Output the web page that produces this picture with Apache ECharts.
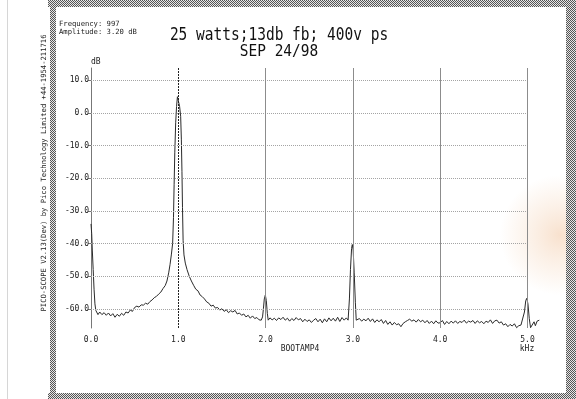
<!DOCTYPE html>
<html>
<head>
<meta charset="utf-8">
<script src="https://cdn.jsdelivr.net/npm/echarts@6/dist/echarts.min.js"></script>
<style>
  html, body { margin: 0; padding: 0; background: #fff; }
  #chart { width: 576px; height: 399px; }
</style>
</head>
<body>
<div id="chart"></div>
<script>
// spectrum trace (kHz / dB)
var freqKHz = [
  0.000, 0.008, 0.015, 0.025, 0.035, 0.045, 0.055, 0.065, 0.080, 0.095,
  0.100, 0.125, 0.150, 0.175, 0.200, 0.225, 0.250, 0.275, 0.300, 0.325,
  0.350, 0.375, 0.400, 0.425, 0.450, 0.475, 0.500, 0.525, 0.550, 0.575,
  0.600, 0.625, 0.650, 0.675, 0.700, 0.725, 0.750, 0.775, 0.800, 0.825,
  0.850, 0.870, 0.890, 0.905, 0.920, 0.935, 0.945, 0.952, 0.960, 0.970,
  0.980, 0.990, 0.997, 1.005, 1.015, 1.027, 1.035, 1.042, 1.048, 1.055,
  1.065, 1.080, 1.100, 1.125, 1.150, 1.175, 1.200, 1.225, 1.250, 1.275,
  1.300, 1.325, 1.350, 1.375, 1.400, 1.425, 1.450, 1.475, 1.500, 1.525,
  1.550, 1.575, 1.600, 1.625, 1.650, 1.675, 1.700, 1.725, 1.750, 1.775,
  1.800, 1.825, 1.850, 1.875, 1.900, 1.925, 1.950, 1.965, 1.975, 1.985,
  1.997, 2.008, 2.020, 2.030, 2.050, 2.075, 2.100, 2.125, 2.150, 2.175,
  2.200, 2.225, 2.250, 2.275, 2.300, 2.325, 2.350, 2.375, 2.400, 2.425,
  2.450, 2.475, 2.500, 2.525, 2.550, 2.575, 2.600, 2.625, 2.650, 2.675,
  2.700, 2.725, 2.750, 2.775, 2.800, 2.825, 2.850, 2.875, 2.900, 2.925,
  2.945, 2.960, 2.972, 2.985, 2.993, 3.003, 3.015, 3.028, 3.038, 3.050,
  3.075, 3.100, 3.125, 3.150, 3.175, 3.200, 3.225, 3.250, 3.275, 3.300,
  3.325, 3.350, 3.375, 3.400, 3.425, 3.450, 3.475, 3.500, 3.525, 3.550,
  3.575, 3.600, 3.625, 3.650, 3.675, 3.700, 3.725, 3.750, 3.775, 3.800,
  3.825, 3.850, 3.875, 3.900, 3.925, 3.950, 3.975, 4.000, 4.025, 4.050,
  4.075, 4.100, 4.125, 4.150, 4.175, 4.200, 4.225, 4.250, 4.275, 4.300,
  4.325, 4.350, 4.375, 4.400, 4.425, 4.450, 4.475, 4.500, 4.525, 4.550,
  4.575, 4.600, 4.625, 4.650, 4.675, 4.700, 4.725, 4.750, 4.775, 4.800,
  4.825, 4.850, 4.875, 4.900, 4.925, 4.945, 4.965, 4.980, 4.992, 5.005,
  5.020, 5.035, 5.055, 5.075, 5.090, 5.110, 5.135
];
var levelDb = [
  -34.0, -37.0, -42.0, -48.0, -54.0, -58.5, -60.5, -61.0, -61.8, -61.2,
  -61.0, -61.8, -61.2, -62.0, -61.3, -62.2, -61.5, -62.6, -61.7, -62.3,
  -61.4, -62.0, -61.0, -61.3, -60.4, -60.8, -59.6, -59.2, -59.5, -58.8,
  -58.9, -58.3, -58.6, -57.8, -57.3, -56.6, -56.2, -55.5, -54.9, -53.8,
  -52.9, -51.5, -49.0, -46.5, -43.5, -40.0, -32.0, -22.0, -12.0, -3.0,
  2.0, 5.0, 5.3, 4.5, 2.0, -1.0, -8.0, -18.0, -29.0, -39.0,
  -43.5, -46.0, -48.0, -50.0, -51.5, -52.8, -54.0, -54.5, -55.8, -56.3,
  -57.0, -57.9, -58.3, -59.2, -58.9, -59.8, -59.6, -60.4, -60.0, -60.8,
  -60.3, -61.2, -60.6, -61.0, -60.5, -61.6, -61.3, -62.0, -61.6, -62.5,
  -62.0, -62.9, -62.2, -63.0, -62.7, -63.4, -63.5, -62.5, -60.0, -57.0,
  -55.8, -57.5, -61.5, -63.5, -62.8, -63.4, -62.9, -63.6, -62.8, -63.3,
  -62.6, -63.5, -62.9, -63.8, -63.0, -63.6, -62.7, -63.4, -63.0, -64.0,
  -63.2, -63.9, -63.4, -64.2, -63.5, -63.0, -64.0, -63.2, -64.3, -63.1,
  -64.0, -62.8, -63.7, -62.9, -63.8, -62.6, -63.9, -62.7, -63.5, -62.8,
  -63.5, -57.0, -48.0, -41.5, -40.3, -42.0, -49.0, -58.0, -63.5, -64.0,
  -63.0, -63.8, -63.2, -63.7, -62.9, -63.9, -63.1, -64.2, -63.4, -64.0,
  -63.3, -64.5, -63.6, -64.8, -64.0, -65.0, -64.2, -64.9, -64.6, -65.5,
  -64.5, -64.0, -63.6, -63.2, -63.8, -63.4, -64.1, -63.3, -64.0, -63.5,
  -64.3, -63.6, -64.5, -63.8, -64.6, -63.7, -64.4, -64.3, -63.6, -64.8,
  -63.9, -64.6, -63.8, -64.4, -63.7, -64.5, -63.9, -64.2, -63.5, -64.4,
  -63.8, -64.1, -63.6, -64.5, -63.7, -64.3, -63.9, -64.6, -63.8, -64.2,
  -63.4, -64.5, -63.7, -63.5, -64.4, -64.0, -65.0, -64.6, -65.5, -64.8,
  -65.3, -64.6, -65.8, -65.2, -65.0, -64.5, -61.0, -57.5, -56.8, -58.5,
  -63.0, -65.8, -65.5, -64.0, -65.2, -63.8, -63.5
];

var yTicks = [10, 0, -10, -20, -30, -40, -50, -60];
var xTicks = [0, 1, 2, 3, 4, 5];
var cursorKHz = 1;

var yMin = -65.9, yMax = 13.8;

var chart = echarts.init(document.getElementById('chart'));

// checker pattern for the scanned border
var pat = document.createElement('canvas');
pat.width = 2; pat.height = 2;
var pc = pat.getContext('2d');
pc.fillStyle = '#e6e6e6'; pc.fillRect(0, 0, 2, 2);
pc.fillStyle = '#555'; pc.fillRect(0, 0, 1, 1); pc.fillRect(1, 1, 1, 1);
var checker = { image: pat, repeat: 'repeat' };

var trace = freqKHz.map(function (f, i) { return [f, levelDb[i]]; });

var gridLines = [];
yTicks.forEach(function (v) {
  gridLines.push([
    { coord: [0, v], lineStyle: { color: '#a4a4a4', width: 1, type: [1, 1] } },
    { coord: [5, v] }
  ]);
});
[2, 3, 4, 5].forEach(function (v) {
  gridLines.push([
    { coord: [v, yMin], lineStyle: { color: '#8c8c8c', width: 1, type: 'solid' } },
    { coord: [v, yMax] }
  ]);
});
gridLines.push([
  { coord: [cursorKHz, yMin], lineStyle: { color: '#222', width: 1, type: [2, 1] } },
  { coord: [cursorKHz, yMax] }
]);

var mono = 'DejaVu Sans Mono';

chart.setOption({
  backgroundColor: '#fff',
  animation: false,
  grid: { left: 91, top: 68, right: 35.4, bottom: 71 },
  xAxis: {
    type: 'value', min: 0, max: 5.15,
    axisLine: { show: false },
    axisTick: { show: false },
    splitLine: { show: false },
    axisLabel: {
      customValues: xTicks, margin: 8,
      fontFamily: mono, fontSize: 8, color: '#222',
      formatter: function (v) { return v.toFixed(1); }
    }
  },
  yAxis: {
    type: 'value', min: yMin, max: yMax,
    axisLine: { show: true, lineStyle: { color: '#777', width: 1 } },
    axisTick: { show: true, customValues: yTicks, length: 3, lineStyle: { color: '#777' } },
    splitLine: { show: false },
    axisLabel: {
      customValues: yTicks, margin: 2,
      fontFamily: mono, fontSize: 8, color: '#222',
      formatter: function (v) { return v.toFixed(1); }
    }
  },
  graphic: [
    { type: 'line', shape: { x1: 7.5, y1: 0, x2: 7.5, y2: 399 }, style: { stroke: '#d6d6d6', lineWidth: 1 } },
    {
      type: 'ellipse', shape: { cx: 560, cy: 235, rx: 60, ry: 120 },
      style: {
        fill: {
          type: 'radial', x: 0.5, y: 0.5, r: 0.5,
          colorStops: [
            { offset: 0, color: 'rgba(242,200,165,0.55)' },
            { offset: 0.5, color: 'rgba(244,210,180,0.3)' },
            { offset: 1, color: 'rgba(244,210,180,0)' }
          ]
        }
      }
    },
    { type: 'rect', shape: { x: 48, y: 0, width: 528, height: 7 }, style: { fill: checker } },
    { type: 'rect', shape: { x: 50, y: 0, width: 6, height: 399 }, style: { fill: checker } },
    { type: 'rect', shape: { x: 48, y: 393, width: 528, height: 6 }, style: { fill: checker } },
    { type: 'rect', shape: { x: 566, y: 0, width: 10, height: 399 }, style: { fill: checker } },
    {
      type: 'text', x: 44, y: 173, rotation: Math.PI / 2,
      style: {
        text: 'PICO-SCOPE V2.13(Dev) by Pico Technology Limited +44-1954-211716',
        font: '7.2px "' + mono + '"', fill: '#222', align: 'center', verticalAlign: 'middle'
      }
    },
    {
      type: 'text', x: 59, y: 20,
      style: { text: 'Frequency: 997\nAmplitude: 3.20 dB', font: '7.2px "' + mono + '"', lineHeight: 8, fill: '#222' }
    },
    {
      type: 'text', x: 279, y: 35, scaleY: 1.25,
      style: { text: '25 watts;13db fb; 400v ps', font: '14.5px "' + mono + '"', fill: '#111', align: 'center', verticalAlign: 'middle' }
    },
    {
      type: 'text', x: 279, y: 52, scaleY: 1.15,
      style: { text: 'SEP 24/98', font: '14.5px "' + mono + '"', fill: '#111', align: 'center', verticalAlign: 'middle' }
    },
    { type: 'text', x: 91, y: 58, style: { text: 'dB', font: '8px "' + mono + '"', fill: '#222' } },
    { type: 'text', x: 300, y: 345, style: { text: 'BOOTAMP4', font: '8px "' + mono + '"', fill: '#222', align: 'center' } },
    { type: 'text', x: 527, y: 345, style: { text: 'kHz', font: '8px "' + mono + '"', fill: '#222', align: 'center' } }
  ],
  series: [{
    type: 'line',
    data: trace,
    showSymbol: false,
    symbol: 'none',
    clip: false,
    lineStyle: { color: '#2a2a2a', width: 1 },
    markLine: {
      silent: true,
      symbol: ['none', 'none'],
      label: { show: false },
      data: gridLines
    }
  }]
});
</script>
</body>
</html>
